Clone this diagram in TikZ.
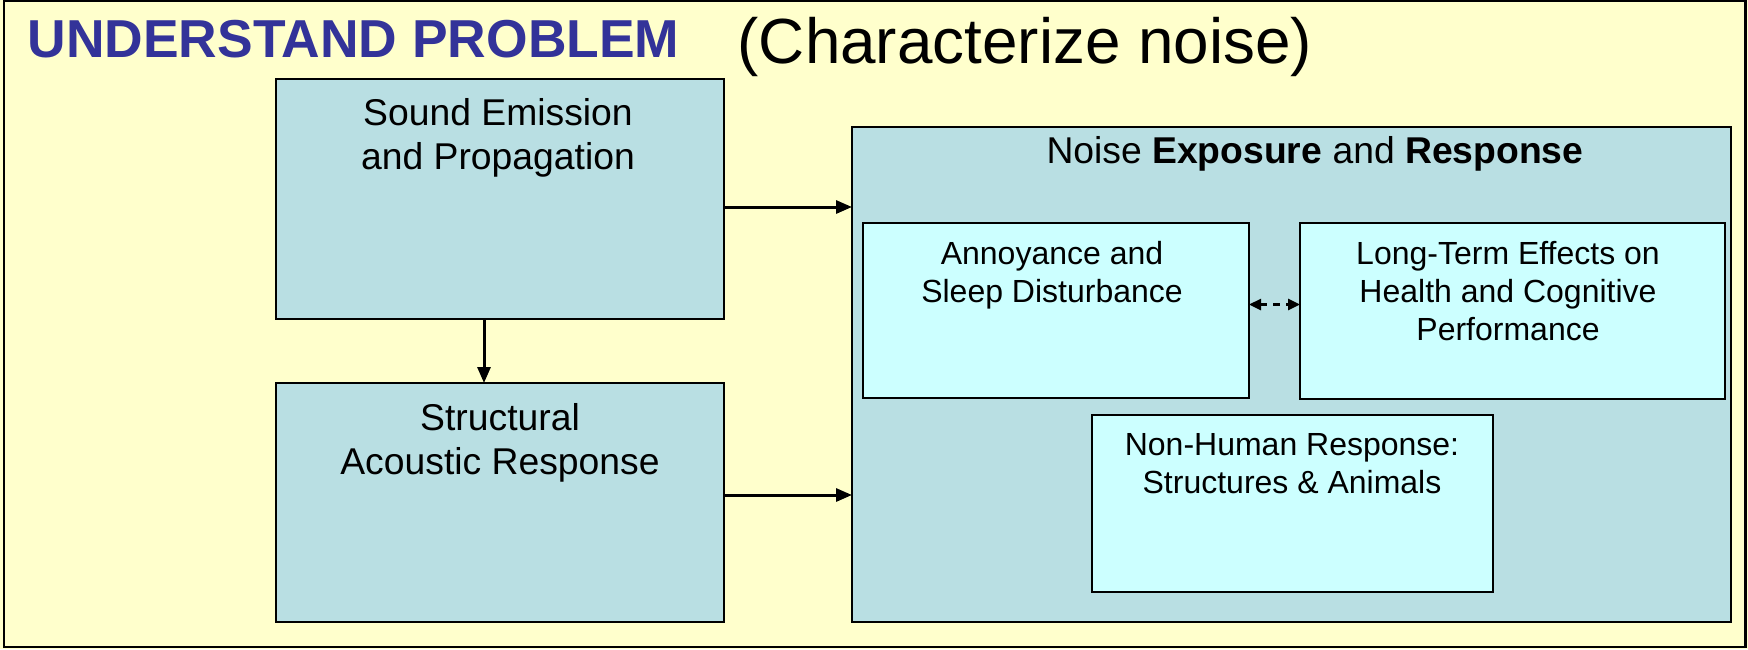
\documentclass[tikz,border=0pt]{standalone}
\usepackage{fontspec}
\setmainfont{Liberation Sans}
\usetikzlibrary{arrows.meta}
\definecolor{bgy}{HTML}{FFFFCC}
\definecolor{boxb}{RGB}{185,223,227}
\definecolor{boxc}{HTML}{CCFFFF}
\definecolor{ttl}{HTML}{333399}
\begin{document}
\begin{tikzpicture}[x=1pt,y=-1pt,
  outerbox/.style={draw=black, line width=2pt, fill=boxb, inner sep=0pt, outer sep=0pt, anchor=north west},
  innerbox/.style={draw=black, line width=2pt, fill=boxc, inner sep=0pt, outer sep=0pt, anchor=north west},
  bigtxt/.style={inner sep=0pt, align=center, font=\fontsize{37.3}{44}\selectfont},
  smalltxt/.style={inner sep=0pt, align=center, font=\fontsize{32}{38}\selectfont},
  arr/.style={line width=3pt, -{Triangle[length=16pt,width=13pt]}},
  darr/.style={line width=2.5pt, dash pattern=on 7pt off 6pt, {Triangle[length=12pt,width=11pt]}-{Triangle[length=12pt,width=11pt]}}
]
\useasboundingbox (0,0) rectangle (1748,649);
\fill[bgy] (0,0) rectangle (1748,649);
\draw[black, line width=2.5pt] (4,0.5) rectangle (1745.5,647);

% title
\node[inner sep=0pt, anchor=base west, text=ttl, font=\fontsize{53.4}{60}\selectfont\bfseries] (title) at (27.5,57.5) {UNDERSTAND PROBLEM};
\node[inner sep=0pt, anchor=base west, font=\fontsize{63.8}{70}\selectfont] (sub) at (737.5,63) {(Characterize noise)};

% boxes
\node[outerbox, minimum width=448pt, minimum height=240pt] (sound) at (276,79) {};
\node[outerbox, minimum width=448pt, minimum height=239pt] (struct) at (276,383) {};
\node[outerbox, line width=2.5pt, minimum width=879pt, minimum height=495pt] (big) at (852,127) {};
\node[innerbox, minimum width=386pt, minimum height=175pt] (annoy) at (863,223) {};
\node[innerbox, minimum width=425pt, minimum height=176pt] (longt) at (1300,223) {};
\node[innerbox, minimum width=401pt, minimum height=177pt] (nonh) at (1092,415) {};

% texts
\node[bigtxt, anchor=north] (soundt) at (498,98) {Sound Emission\\and Propagation};
\node[bigtxt, anchor=north] (structt) at (500,403) {Structural\\Acoustic Response};
\node[bigtxt, anchor=base] (bigt) at (1315,163) {Noise \textbf{Exposure} and \textbf{Response}};
\node[smalltxt, anchor=north] (annoyt) at (1052,241) {Annoyance and\\Sleep Disturbance};
\node[smalltxt, anchor=north] (longtt) at (1508,241) {Long-Term Effects on\\Health and Cognitive\\Performance};
\node[smalltxt, anchor=north] (nonht) at (1292,433) {Non-Human Response:\\Structures \& Animals};

% connectors
\draw[arr] ([yshift=-8pt]sound.east) -- ([yshift=-8pt]sound.east -| big.west);
\draw[arr] ([yshift=7.5pt]struct.east) -- ([yshift=7.5pt]struct.east -| big.west);
\draw[arr] ([xshift=-16pt]sound.south) -- ([xshift=-16pt]struct.north);
\draw[darr] ([yshift=6pt]annoy.east) -- ([yshift=6pt]annoy.east -| longt.west);
\end{tikzpicture}
\end{document}
